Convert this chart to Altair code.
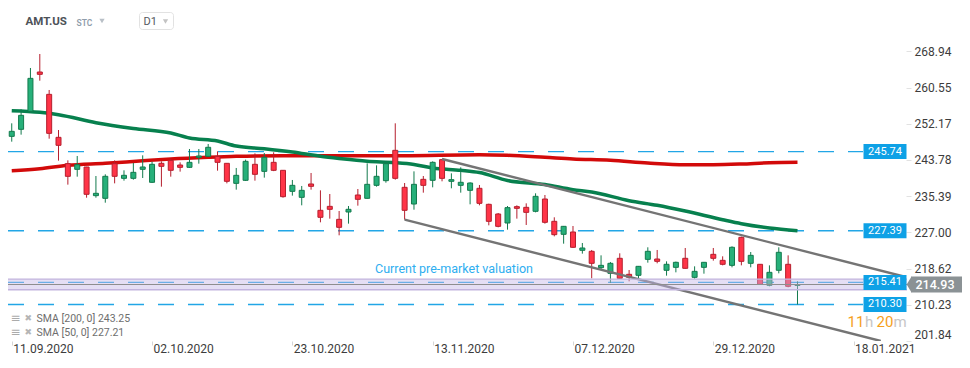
import json
import altair as alt
import pandas as pd

# ---------------- data ----------------
opens = [249.26, 250.89, 255.06, 264.17, 258.99, 249.03, 242.93, 241.62, 242.16, 235.52,
         234.90, 242.93, 239.53, 239.53, 241.62, 238.61, 243.01, 243.70, 242.62, 242.08,
         244.40, 244.63, 244.63, 243.01, 238.37, 239.07, 242.78, 241.15, 243.24, 241.39,
         236.52, 235.13, 238.22, 232.12, 233.04, 230.03, 231.73, 235.67, 234.90, 237.91,
         238.99, 246.02, 237.45, 233.58, 239.30, 239.07, 243.86, 238.84, 237.91, 236.75,
         237.22, 233.51, 231.27, 229.18, 232.97, 232.81, 231.89, 234.74, 229.57, 226.56,
         227.10, 222.85, 222.62, 218.83, 217.52, 221.00, 217.29, 217.06, 220.76, 220.84,
         218.22, 218.91, 221.00, 216.59, 218.91, 221.92, 220.53, 219.37, 225.86, 219.84,
         219.61, 214.74, 218.22, 219.61, 214.70]
highs = [252.28, 255.52, 265.10, 268.34, 260.00, 250.73, 243.70, 244.71, 242.20, 240.07,
         240.46, 243.70, 241.39, 243.09, 244.86, 243.39, 243.47, 244.09, 243.24, 246.33,
         246.33, 247.49, 245.79, 243.05, 241.93, 243.86, 245.32, 245.40, 245.56, 241.45,
         239.15, 237.76, 240.77, 236.75, 235.90, 231.96, 233.12, 237.06, 243.01, 242.54,
         243.01, 252.28, 238.45, 241.15, 240.07, 243.47, 244.01, 240.69, 242.08, 238.61,
         237.99, 233.66, 231.50, 233.12, 233.28, 233.74, 236.06, 235.67, 230.50, 228.49,
         228.49, 224.55, 222.93, 221.69, 220.15, 222.16, 218.29, 219.22, 223.55, 222.93,
         220.30, 220.23, 223.39, 219.14, 220.15, 223.39, 221.46, 223.78, 226.02, 222.46,
         219.68, 219.37, 223.55, 221.69, 215.67]
lows = [248.03, 249.65, 254.67, 262.16, 248.72, 243.63, 238.07, 239.92, 235.05, 235.05,
        233.89, 238.37, 238.99, 239.22, 239.61, 238.45, 237.60, 239.92, 241.08, 241.93,
        242.93, 244.48, 241.31, 238.37, 236.91, 238.92, 238.99, 239.69, 241.20, 235.05,
        235.52, 233.28, 236.91, 229.34, 230.19, 226.33, 229.03, 233.20, 234.82, 237.60,
        238.53, 239.22, 229.96, 232.27, 236.21, 237.45, 238.84, 237.22, 236.21, 233.51,
        233.28, 228.64, 228.18, 227.64, 230.19, 228.72, 231.65, 229.03, 226.09, 224.39,
        223.39, 222.08, 216.36, 218.29, 215.28, 216.20, 215.67, 216.44, 219.99, 219.84,
        216.98, 217.75, 218.60, 216.28, 217.44, 220.46, 219.37, 218.91, 219.37, 218.91,
        214.90, 214.51, 217.52, 214.28, 210.30]
closes = [250.42, 254.13, 262.70, 263.63, 249.96, 247.18, 240.00, 242.70, 235.83, 236.06,
          240.00, 240.00, 240.23, 240.92, 242.16, 242.78, 242.31, 241.39, 242.08, 243.24,
          244.71, 246.72, 243.24, 238.84, 240.23, 243.47, 240.46, 244.40, 241.39, 235.28,
          237.91, 236.75, 237.68, 230.50, 232.35, 228.18, 232.35, 234.67, 238.14, 240.00,
          242.93, 239.53, 232.12, 238.14, 237.91, 243.24, 239.53, 239.22, 238.61, 238.45,
          233.74, 229.57, 228.41, 232.74, 232.58, 231.65, 235.36, 229.34, 226.48, 228.41,
          223.55, 223.39, 219.84, 219.37, 219.84, 216.36, 216.59, 219.14, 222.62, 220.30,
          219.61, 220.07, 218.68, 217.98, 220.07, 221.00, 219.61, 223.55, 220.30, 221.69,
          214.97, 217.75, 222.39, 214.51, 214.93]

sma200_idx = [0, 3, 6, 10, 14, 17, 21, 24, 29, 36, 42, 50, 53, 57, 60, 64, 68, 72, 75, 78, 81, 84]
sma200_val = [241.30, 241.76, 242.55, 243.02, 243.60, 244.01, 244.41, 244.64, 244.78, 244.75,
              244.78, 245.01, 244.87, 244.40, 244.01, 243.71, 243.08, 242.69, 242.69, 242.85,
              243.15, 243.25]
sma50_idx = [0, 3, 5, 9, 13, 17, 19, 22, 24, 27, 30, 33, 35, 38, 41, 43, 45, 48, 50, 53,
             57, 60, 62, 66, 69, 72, 76, 78, 81, 84]
sma50_val = [255.20, 254.83, 254.28, 252.42, 251.08, 250.04, 248.88, 248.18, 247.02, 246.40,
             245.63, 244.64, 244.13, 243.48, 243.16, 242.74, 241.93, 241.40, 240.88, 239.03,
             238.10, 236.90, 236.37, 234.35, 233.29, 231.96, 229.94, 229.02, 228.02, 227.40]

channel_upper_idx = [46, 95.6]
channel_upper_val = [244.01, 216.67]
channel_lower_idx = [42, 92.9]
channel_lower_val = [229.96, 201.84]

levels = [245.74, 227.39, 215.41, 210.30]
current_price = 214.93
band_low, band_high = 213.72, 216.18

y_ticks = [201.84, 210.23, 218.62, 227.00, 235.39, 243.78, 252.17, 260.55, 268.94]
x_tick_idx = [0, 15, 30, 45, 60, 75, 90]
x_tick_labels = ["11.09.2020", "02.10.2020", "23.10.2020", "13.11.2020",
                 "07.12.2020", "29.12.2020", "18.01.2021"]

legend_lines = ["SMA [200, 0] 243.25", "SMA [50, 0] 227.21"]
symbol = "AMT.US"
instrument_type = "STC"
interval = "D1"
band_label = "Current pre-market valuation"
countdown = ["11", "h", "20", "m"]

# ---------------- styling ----------------
W, H = 898, 333
X_DOMAIN = [-0.4, 95.6]
Y_DOMAIN = [201.84, 279.0]
FONT = "Roboto"
UP_FILL, UP_LINE = "#27b07a", "#137a4d"
DN_FILL, DN_LINE = "#ff3447", "#b51f2e"
BLUE_LINE, BLUE_BOX = "#22a6e6", "#0ea1e6"
GRAY_BOX = "#8b9295"

label_expr = f"{json.dumps(x_tick_labels)}[indexof({json.dumps(x_tick_idx)}, datum.value)]"
x_axis = alt.Axis(values=x_tick_idx, labelExpr=label_expr, labelAlign="left", labelOffset=1,
                  labelPadding=-2, tickSize=4, tickColor="#d6d6d6", domain=False, grid=False,
                  labelColor="#3c3c3c", labelFontSize=12, labelFont=FONT, title=None,
                  labelOverlap=False, labelBound=False, labelFlush=False)
y_axis = alt.Axis(values=y_ticks, format=".2f", orient="right", tickSize=5, tickColor="#e2e2e2",
                  labelPadding=3, labelFontSize=12, labelFont=FONT, labelColor="#3c3c3c",
                  domain=False, grid=False, title=None, labelFlush=True, labelOverlap=False)


def X(field):
    return alt.X(field, type="quantitative",
                 scale=alt.Scale(domain=X_DOMAIN, nice=False, zero=False, padding=0),
                 axis=x_axis)


def Y(field):
    return alt.Y(field, type="quantitative",
                 scale=alt.Scale(domain=Y_DOMAIN, nice=False, zero=False, padding=0),
                 axis=y_axis)


candles = pd.DataFrame({"i": list(range(len(opens))), "open": opens, "high": highs,
                        "low": lows, "close": closes})
candles["dir"] = ["up" if c >= o else "down" for o, c in zip(opens, closes)]

one = pd.DataFrame({"k": [0]})
lv = pd.DataFrame({"level": levels, "label": [f"{v:.2f}" for v in levels]})
cur = pd.DataFrame({"price": [current_price], "label": [f"{current_price:.2f}"]})
band = pd.DataFrame({"lo": [band_low], "hi": [band_high]})
band_edges = pd.DataFrame({"p": [band_low, band_high]})

layers = []

# dashed horizontal levels
layers.append(alt.Chart(lv).mark_rule(color=BLUE_LINE, strokeWidth=1.3, strokeDash=[16, 14])
              .encode(y=Y("level"), x=alt.value(0), x2=alt.value(855)))

# moving averages
sma200 = pd.DataFrame({"i": sma200_idx, "v": sma200_val})
sma50 = pd.DataFrame({"i": sma50_idx, "v": sma50_val})
layers.append(alt.Chart(sma200).mark_line(color="#d20a0a", strokeWidth=3.5, interpolate="monotone")
              .encode(x=X("i"), y=Y("v")))
layers.append(alt.Chart(sma50).mark_line(color="#07804e", strokeWidth=3.5, interpolate="monotone")
              .encode(x=X("i"), y=Y("v")))

# candles
for d, fill, line in [("up", UP_FILL, UP_LINE), ("down", DN_FILL, DN_LINE)]:
    sub = alt.Chart(candles).transform_filter(alt.datum.dir == d)
    layers.append(sub.mark_rule(color=line, strokeWidth=1)
                  .encode(x=X("i"), y=Y("low"), y2="high"))
    layers.append(sub.mark_bar(size=5, fill=fill, stroke=line, strokeWidth=1)
                  .encode(x=X("i"), y=Y("open"), y2="close"))

# trend channel
ch_up = pd.DataFrame({"i": channel_upper_idx, "v": channel_upper_val})
ch_lo = pd.DataFrame({"i": channel_lower_idx, "v": channel_lower_val})
for ch in (ch_up, ch_lo):
    layers.append(alt.Chart(ch).mark_line(color="#747474", strokeWidth=2.4, clip=True)
                  .encode(x=X("i"), y=Y("v")))

# pre-market band
layers.append(alt.Chart(band).mark_rect(color="#c6b9e6", opacity=0.45)
              .encode(y=Y("lo"), y2="hi", x=alt.value(0), x2=alt.value(W + 1)))
layers.append(alt.Chart(band_edges).mark_rule(color="#c2b4de", strokeWidth=1.3)
              .encode(y=Y("p"), x=alt.value(0), x2=alt.value(W + 1)))
layers.append(alt.Chart(cur).mark_rule(color="#8e8e8e", strokeWidth=1.2)
              .encode(y=Y("price"), x=alt.value(0), x2=alt.value(W + 1)))
layers.append(alt.Chart(one).mark_text(align="left", baseline="middle", color="#2eaef0",
                                       fontSize=12.5, font=FONT)
              .encode(x=alt.value(367), y=alt.value(260.5), text=alt.value(band_label)))

# level labels
layers.append(alt.Chart(lv).mark_rect(color=BLUE_BOX, yOffset=-7.5, y2Offset=7.5)
              .encode(y=Y("level"), y2="level", x=alt.value(855.5), x2=alt.value(898.5)))
layers.append(alt.Chart(lv).mark_text(color="white", fontSize=11, font=FONT, baseline="middle")
              .encode(y=Y("level"), x=alt.value(877), text="label:N"))

# current price tag
layers.append(alt.Chart(cur).mark_rect(color=GRAY_BOX, yOffset=-8, y2Offset=8)
              .encode(y=Y("price"), y2="price", x=alt.value(903), x2=alt.value(954)))
layers.append(alt.Chart(cur).mark_point(shape="M0,-1L-0.6,0L0,1Z", filled=True, size=256,
                                        color=GRAY_BOX, opacity=1)
              .encode(y=Y("price"), x=alt.value(903.5)))
layers.append(alt.Chart(cur).mark_text(color="white", fontSize=12.5, font=FONT,
                                       fontWeight=500, baseline="middle")
              .encode(y=Y("price"), x=alt.value(927), text="label:N"))

# header
layers.append(alt.Chart(one).mark_text(align="left", baseline="middle", fontSize=11.5,
                                       fontWeight="bold", font=FONT, color="#4d5258")
              .encode(x=alt.value(17.5), y=alt.value(13.5), text=alt.value(symbol)))
layers.append(alt.Chart(one).mark_text(align="left", baseline="middle", fontSize=8.5,
                                       fontWeight=600, font=FONT, color="#8f9dab")
              .encode(x=alt.value(68.5), y=alt.value(14.5), text=alt.value(instrument_type)))
layers.append(alt.Chart(one).mark_point(shape="triangle-down", filled=True, size=28,
                                        color="#b9c0c7", opacity=1)
              .encode(x=alt.value(94), y=alt.value(13)))
layers.append(alt.Chart(one).mark_rect(fill="white", stroke="#e2e2e2", strokeWidth=1,
                                       cornerRadius=3)
              .encode(x=alt.value(131.5), x2=alt.value(165.5), y=alt.value(4.5), y2=alt.value(21.5)))
layers.append(alt.Chart(one).mark_text(align="left", baseline="middle", fontSize=11,
                                       font=FONT, color="#55595e")
              .encode(x=alt.value(135.5), y=alt.value(13.5), text=alt.value(interval)))
layers.append(alt.Chart(one).mark_point(shape="triangle-down", filled=True, size=28,
                                        color="#c3c3c3", opacity=1)
              .encode(x=alt.value(157.5), y=alt.value(13.5)))

# SMA legend
for k, txt in enumerate(legend_lines):
    yy = 311 + 14 * k
    layers.append(alt.Chart(one).mark_text(align="left", baseline="middle", fontSize=12,
                                           font="DejaVu Sans", color="#ababab")
                  .encode(x=alt.value(2.5), y=alt.value(yy - 1), text=alt.value("≡")))
    layers.append(alt.Chart(one).mark_text(align="left", baseline="middle", fontSize=9,
                                           font="DejaVu Sans", color="#b5b5b5")
                  .encode(x=alt.value(16.5), y=alt.value(yy - 1), text=alt.value("✖")))
    layers.append(alt.Chart(one).mark_text(align="left", baseline="middle", fontSize=10.5,
                                           font=FONT, color="#6e6e6e")
                  .encode(x=alt.value(28.5), y=alt.value(yy), text=alt.value(txt)))

# countdown (pieces placed one after another)
cd_x = [839.5, 857.0, 868.5, 885.5]
cd_col = ["#f5a01c", "#c6c6c6", "#f5a01c", "#c6c6c6"]
for t, xx, c in zip(countdown, cd_x, cd_col):
    layers.append(alt.Chart(one).mark_text(align="left", baseline="middle", fontSize=15,
                                           font=FONT, color=c)
                  .encode(x=alt.value(xx), y=alt.value(314), text=alt.value(t)))

chart = (alt.layer(*layers)
         .properties(width=W, height=H, background="white",
                     padding={"left": 0, "top": 0, "right": 56, "bottom": 14},
                     autosize=alt.AutoSizeParams(type="none"))
         .configure_view(stroke="transparent"))

chart.save("out.html", embed_options={"renderer": "svg", "actions": False})
